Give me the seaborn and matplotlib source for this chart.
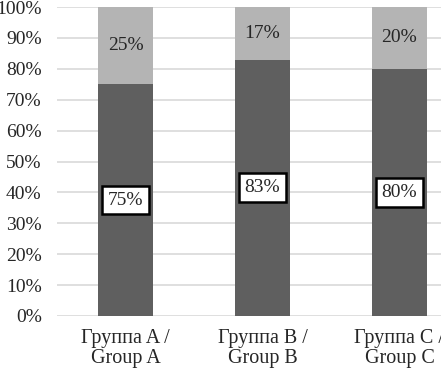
import matplotlib
matplotlib.use("Agg")
import matplotlib.pyplot as plt
import seaborn as sns

# data
groups = ["Группа A /\nGroup A", "Группа B /\nGroup B", "Группа C /\nGroup C"]
yes_vals = [75, 83, 80]
no_vals = [25, 17, 20]
y_ticks = list(range(0, 101, 10))

sns.set_theme(style="white")
plt.rcParams["font.family"] = ["Liberation Serif", "DejaVu Serif"]

fig = plt.figure(figsize=(4.41, 3.71), dpi=100)
ax = fig.add_axes([57 / 441, 55 / 371, 411 / 441, 309 / 371])

dark = "#5f5f5f"
light = "#b4b4b4"

sns.barplot(x=groups, y=yes_vals, color=dark, width=0.4, saturation=1,
            linewidth=0, ax=ax)
sns.barplot(x=groups, y=no_vals, bottom=yes_vals, color=light, width=0.4,
            saturation=1, linewidth=0, ax=ax)

# grid
ax.set_ylim(0, 100)
ax.set_yticks(y_ticks)
ax.set_yticklabels([f"{t}%" for t in y_ticks], fontsize=14)
for t in y_ticks:
    ax.axhline(t, color="#d9d9d9", lw=1.2, zorder=0)
ax.set_axisbelow(True)
for s in ax.spines.values():
    s.set_visible(False)
ax.tick_params(axis="y", length=0, pad=11)
ax.tick_params(axis="x", length=0, pad=9, labelsize=14.5)
for lbl in ax.get_xticklabels():
    lbl.set_linespacing(1.12)
ax.set_xlim(-0.5, 2.5)
ax.set_xlabel("")
ax.set_ylabel("")

# labels
for i, (a, b) in enumerate(zip(yes_vals, no_vals)):
    ax.text(i, a / 2, f"{a}%", ha="center", va="center", fontsize=14,
            bbox=dict(boxstyle="square,pad=0.3", fc="white", ec="black", lw=1.8))
    ax.text(i, a + b / 2, f"{b}%", ha="center", va="center", fontsize=14)

fig.savefig("out.png", dpi=100)
